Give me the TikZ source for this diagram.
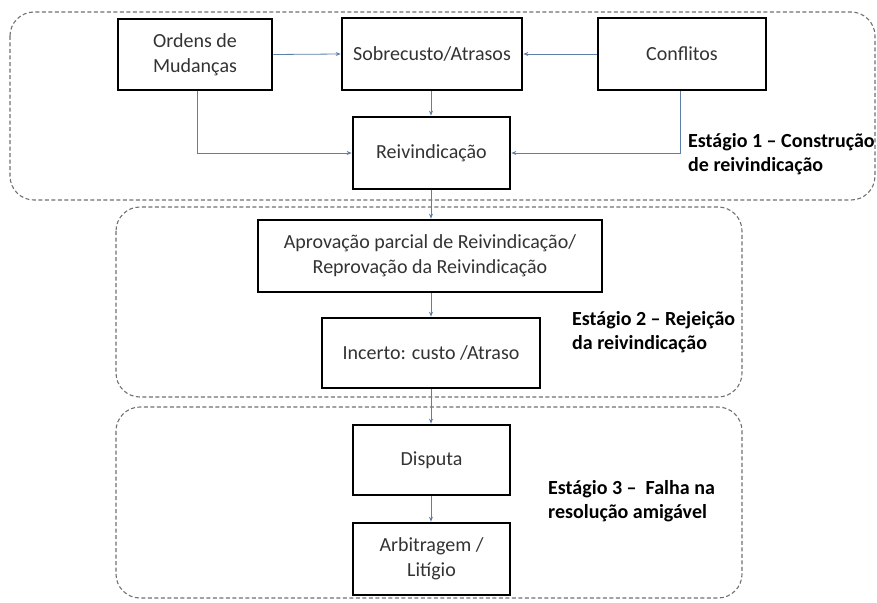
\documentclass[tikz,border=0pt]{standalone}
\usepackage{fontspec}
\setmainfont{Carlito}
\usetikzlibrary{arrows.meta}
\definecolor{linkblue}{HTML}{5B7FA8}
\definecolor{stagegray}{HTML}{707070}
\tikzset{
  stepbox/.style={draw=black, line width=2.7pt, fill=white, align=center,
    font=\fontsize{20}{25}\selectfont, inner sep=0pt, text=black!80},
  stagebox/.style={draw=stagegray, line width=1.1pt, dash pattern=on 4pt off 2.5pt,
    rounded corners=24pt},
  link/.style={draw=linkblue, line width=0.8pt, -{Stealth[length=5pt,width=4pt]}},
  stagelabel/.style={font=\bfseries\fontsize{20}{24}\selectfont, align=left,
    anchor=west, inner sep=0pt}
}
\begin{document}
\begin{tikzpicture}[x=1pt,y=-1pt]
\useasboundingbox (0,0) rectangle (877,602);

% stage frames
\draw[stagebox] (10,12) rectangle (875,200);
\draw[stagebox] (116,207) rectangle (742,397);
\draw[stagebox] (116,407) rectangle (742,598);

% stage 1
\node[stepbox, minimum width=154pt, minimum height=71pt] (ordens) at (195,54.5) {Ordens de\\Mudanças};
\node[stepbox, minimum width=180pt, minimum height=72pt] (sobre) at (432,54) {Sobrecusto/Atrasos};
\node[stepbox, minimum width=168pt, minimum height=72pt] (confl) at (682,54) {Conflitos};
\node[stepbox, minimum width=157pt, minimum height=72pt] (reiv) at (431.5,153) {Reivindicação};

% stage 2
\node[stepbox, minimum width=344pt, minimum height=72pt] (aprov) at (430,256) {Aprovação parcial de Reivindicação/\\Reprovação da Reivindicação};
\node[stepbox, minimum width=218pt, minimum height=70pt] (incerto) at (431,353) {Incerto: custo /Atraso};

% stage 3
\node[stepbox, minimum width=157pt, minimum height=70pt] (disputa) at (431.5,460) {Disputa};
\node[stepbox, minimum width=157pt, minimum height=72pt] (arbit) at (431.5,559) {Arbitragem /\\Litígio};

% stage captions
\node[stagelabel] (s1) at (688,154) {Estágio 1 – Construção\\de reivindicação};
\node[stagelabel] (s2) at (572,332) {Estágio 2 – Rejeição\\da reivindicação};
\node[stagelabel] (s3) at (548,501) {Estágio 3 –\ \ Falha na\\resolução amigável};

% connectors
\coordinate (jo) at ([xshift=2pt]ordens.south);
\coordinate (jc) at ([xshift=-2pt]confl.south);
\coordinate (js) at (431,0);
\path[link] (ordens.east) -- (sobre.west);
\path[link] (confl.west) -- (sobre.east);
\path[link] (sobre.south -| js) -- (reiv.north -| js);
\path[link] (jo) |- (reiv.west);
\path[link] (jc) |- (reiv.east);
\path[link] (reiv.south -| js) -- (aprov.north -| js);
\path[link] (aprov.south -| js) -- (incerto.north -| js);
\path[link] (incerto.south -| js) -- (disputa.north -| js);
\path[link] (disputa.south -| js) -- (arbit.north -| js);
\end{tikzpicture}
\end{document}
